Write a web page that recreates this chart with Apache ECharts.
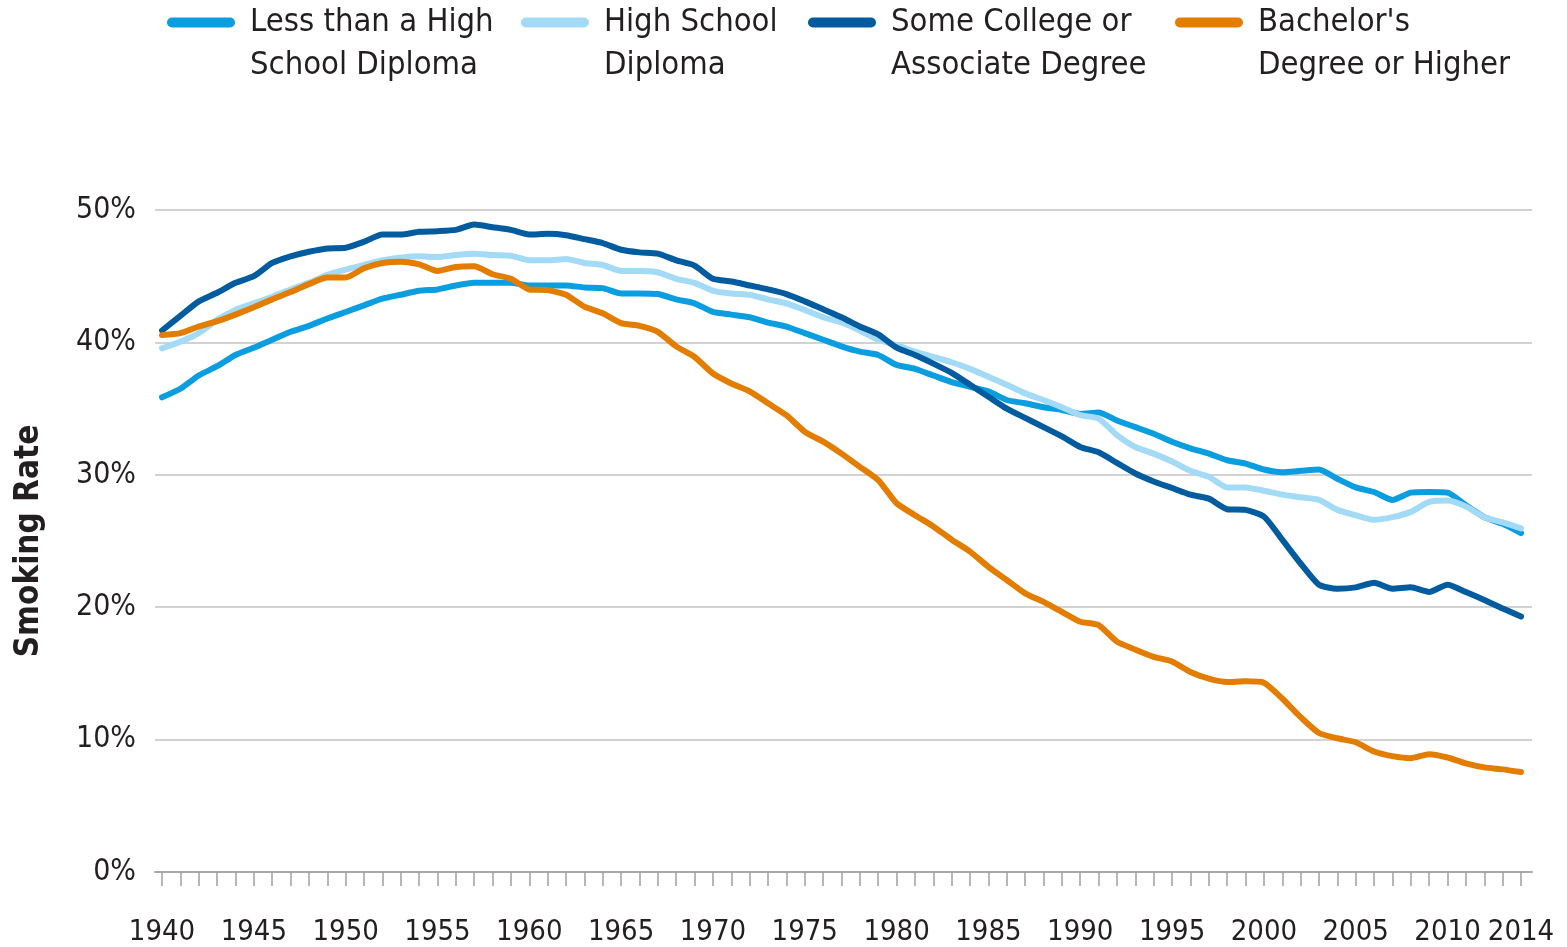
<!DOCTYPE html>
<html>
<head>
<meta charset="utf-8">
<script src="https://cdn.jsdelivr.net/npm/echarts@6/dist/echarts.min.js"></script>
<style>
html,body{margin:0;padding:0;background:#fff;}
#chart{width:1567px;height:947px;}
</style>
</head>
<body>
<div id="chart"></div>
<script>
const startYear = 1940;
const endYear = 2014;
const tickLabels = ['1940','1945','1950','1955','1960','1965','1970','1975','1980','1985','1990','1995','2000','2005','2010','2014'];
const yTickLabels = ['0%','10%','20%','30%','40%','50%'];
const seriesNames = ['Less than a High\nSchool Diploma', 'High School\nDiploma', 'Some College or\nAssociate Degree', "Bachelor's\nDegree or Higher"];

const lessThanHS = [35.85,36.5,37.5,38.2,39.05,39.6,40.2,40.8,41.25,41.8,
  42.3,42.8,43.3,43.6,43.9,44.0,44.3,44.5,44.5,44.5,
  44.3,44.3,44.3,44.15,44.1,43.7,43.7,43.65,43.25,42.95,
  42.3,42.1,41.9,41.5,41.2,40.7,40.2,39.7,39.3,39.05,
  38.3,38.0,37.5,37.0,36.65,36.3,35.65,35.4,35.1,34.9,
  34.6,34.7,34.1,33.6,33.1,32.5,32.0,31.6,31.1,30.85,
  30.4,30.2,30.3,30.4,29.7,29.05,28.7,28.1,28.65,28.7,
  28.65,27.7,26.8,26.3,25.6];
const highSchool = [39.55,40.05,40.7,41.7,42.45,42.95,43.45,44.0,44.5,45.1,
  45.5,45.85,46.2,46.4,46.5,46.45,46.6,46.7,46.6,46.55,
  46.2,46.2,46.3,46.0,45.85,45.4,45.4,45.3,44.8,44.5,
  43.9,43.7,43.6,43.25,42.95,42.45,41.9,41.5,40.9,40.2,
  39.8,39.3,38.9,38.5,38.0,37.4,36.8,36.15,35.65,35.1,
  34.5,34.25,33.0,32.1,31.6,31.0,30.3,29.85,29.05,29.05,
  28.8,28.5,28.3,28.1,27.35,26.95,26.6,26.8,27.2,27.95,
  28.05,27.6,26.8,26.4,25.95];
const someCollege = [40.9,42.0,43.1,43.75,44.5,45.0,46.0,46.5,46.85,47.1,
  47.15,47.6,48.15,48.15,48.35,48.4,48.5,48.9,48.7,48.5,
  48.15,48.2,48.1,47.8,47.5,47.0,46.8,46.7,46.2,45.8,
  44.8,44.6,44.3,44.0,43.65,43.1,42.5,41.9,41.2,40.6,
  39.6,39.05,38.4,37.7,36.8,35.9,35.0,34.3,33.6,32.9,
  32.1,31.7,30.9,30.1,29.5,29.0,28.5,28.2,27.4,27.35,
  26.85,25.1,23.3,21.7,21.4,21.5,21.85,21.4,21.5,21.15,
  21.7,21.15,20.55,19.9,19.3];
const bachelors = [40.55,40.7,41.2,41.6,42.1,42.65,43.25,43.8,44.4,44.9,
  44.9,45.6,46.0,46.1,45.9,45.4,45.7,45.75,45.15,44.8,
  44.0,43.95,43.6,42.7,42.2,41.45,41.25,40.8,39.7,38.9,
  37.65,36.9,36.3,35.4,34.5,33.25,32.5,31.6,30.6,29.6,
  27.85,26.95,26.1,25.1,24.2,23.05,22.05,21.05,20.4,19.65,
  18.9,18.65,17.4,16.8,16.25,15.9,15.1,14.6,14.35,14.4,
  14.3,13.1,11.7,10.5,10.1,9.8,9.1,8.75,8.6,8.9,
  8.65,8.2,7.9,7.75,7.55];

const colors = ['#0a9ee0', '#a3daf6', '#005b9f', '#e27d00'];
const allValues = [lessThanHS, highSchool, someCollege, bachelors];

function pairs(vals){
  const out = [];
  for (let i = 0; i < vals.length; i++) out.push([startYear + i, vals[i]]);
  return out;
}

const FONT = "'Liberation Sans Narrow', 'DejaVu Sans Condensed', 'Arial Narrow', sans-serif";
const legendLefts = [167, 521, 808, 1175];

const chart = echarts.init(document.getElementById('chart'));
const capsule = 'path://M5,0 L63,0 A5,5 0 0 1 63,10 L5,10 A5,5 0 0 1 5,0 Z';

const option = {
  animation: false,
  backgroundColor: '#ffffff',
  legend: seriesNames.map((n, i) => ({
    data: [n],
    left: legendLefts[i],
    top: -42,
    padding: 0,
    orient: 'horizontal',
    icon: capsule,
    itemWidth: 68,
    itemHeight: 10,
    selectedMode: false,
    formatter: name => ' \n' + name,
    textStyle: {
      fontFamily: FONT,
      fontSize: 32.5,
      lineHeight: 43,
      color: '#231f20',
      padding: [0, 0, 0, 10]
    }
  })),
  grid: [
    {left: 162, right: 46, top: 210, bottom: 75},
    {left: 155, right: 35, top: 210, bottom: 75}
  ],
  xAxis: [
    {
      type: 'value', gridIndex: 0, min: startYear, max: endYear, interval: 1,
      axisLine: {show: false},
      axisTick: {show: true, length: 14, lineStyle: {color: '#a0a0a0', width: 1.5}},
      splitLine: {show: false},
      axisLabel: {
        margin: 46,
        fontFamily: FONT, fontSize: 29, color: '#231f20',
        showMinLabel: true, showMaxLabel: true,
        formatter: v => tickLabels.indexOf(String(Math.round(v))) >= 0 ? String(Math.round(v)) : ''
      }
    },
    {
      type: 'value', gridIndex: 1, min: 0, max: 1,
      axisLine: {show: true, lineStyle: {color: '#aaaaaa', width: 2}},
      axisTick: {show: false}, axisLabel: {show: false}, splitLine: {show: false}
    }
  ],
  yAxis: [
    {
      type: 'value', gridIndex: 0, min: 0, max: 50, interval: 10,
      axisLine: {show: false}, axisTick: {show: false}, splitLine: {show: false},
      axisLabel: {
        margin: 26, fontFamily: FONT, fontSize: 30, color: '#231f20',
        formatter: v => yTickLabels[Math.round(v / 10)]
      },
      name: 'Smoking Rate', nameLocation: 'middle', nameGap: 116, nameRotate: 90,
      nameTextStyle: {fontFamily: FONT, fontSize: 33, fontWeight: 'bold', color: '#231f20'}
    },
    {
      type: 'value', gridIndex: 1, min: 0, max: 50, interval: 10,
      axisLine: {show: false}, axisTick: {show: false}, axisLabel: {show: false},
      splitLine: {show: true, lineStyle: {color: '#d2d2d2', width: 2}}
    }
  ],
  series: seriesNames.map((n, i) => ({
    name: n,
    type: 'line',
    xAxisIndex: 0, yAxisIndex: 0,
    data: pairs(allValues[i]),
    showSymbol: false,
    symbol: 'none',
    smooth: 0.2,
    color: colors[i],
    lineStyle: {width: 6, color: colors[i], cap: 'round', join: 'round'},
    z: 2 + i
  }))
};
chart.setOption(option);
</script>
</body>
</html>
